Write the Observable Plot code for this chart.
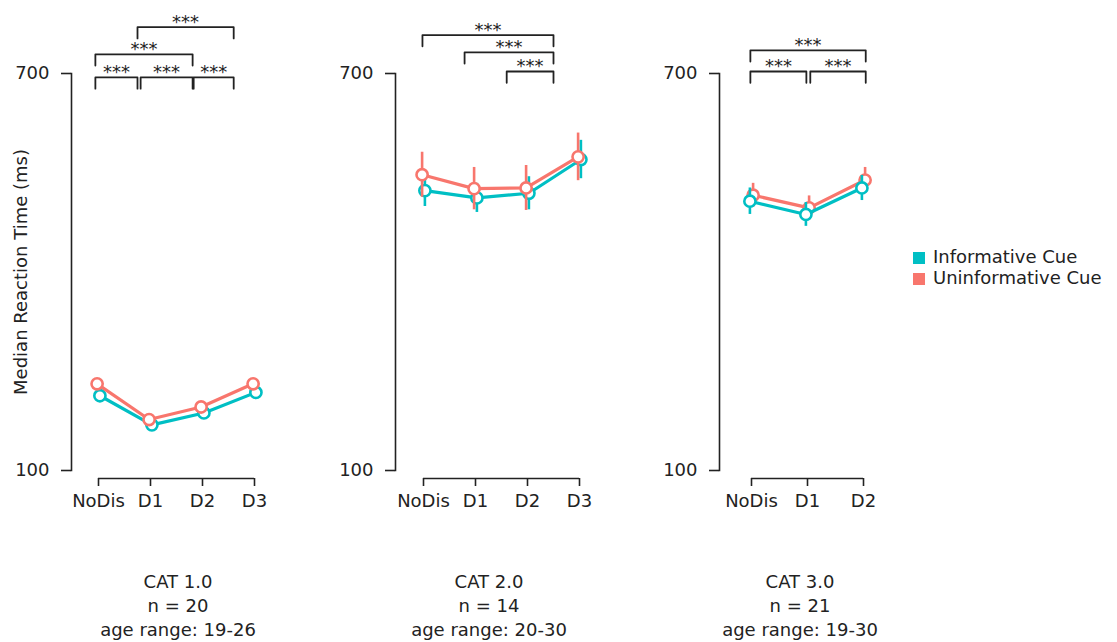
<!DOCTYPE html>
<html><head><meta charset="utf-8">
<script src="https://cdn.jsdelivr.net/npm/d3@7"></script>
<script src="https://cdn.jsdelivr.net/npm/@observablehq/plot@0.6"></script>
<style>
body{margin:0;background:#fff;font-family:"DejaVu Sans",sans-serif;color:#222}
#root{position:relative;width:1117px;height:642px;overflow:hidden;background:#fff}
.panel{position:absolute;top:0}
.cap{position:absolute;top:570px;width:260px;text-align:center;font-size:18px;line-height:24px;white-space:nowrap}
.legend{position:absolute;left:913px;top:246px;font-size:18px;line-height:21px;white-space:nowrap}
.legend .sw{display:inline-block;width:12px;height:12px;margin-right:8px;vertical-align:-1px}
</style></head><body><div id="root"></div>
<script>
// ---- data ----
const conditions = ["Informative Cue", "Uninformative Cue"];
const conditionColors = ["#00BFC4", "#F8766D"];
const yTicks = [100, 700];
const yLabel = "Median Reaction Time (ms)";

// CAT 1.0
const cat1Levels = ["NoDis", "D1", "D2", "D3"];
const cat1Informative = [213, 169, 187, 218];
const cat1InformativeErr = [3, 3, 3, 3];
const cat1Uninformative = [231, 177, 196, 231];
const cat1UninformativeErr = [3, 3, 3, 3];
const cat1BracketFrom = [-0.06, 0.81, 1.83, -0.06, 0.75];
const cat1BracketTo = [0.75, 1.81, 2.6, 1.81, 2.6];
const cat1BracketY = [694, 694, 694, 729, 770];
const cat1Caption = ["CAT 1.0", "n = 20", "age range: 19-26"];

// CAT 2.0
const cat2Levels = ["NoDis", "D1", "D2", "D3"];
const cat2Informative = [523, 512, 519, 570];
const cat2InformativeErr = [24, 22, 25, 29];
const cat2Uninformative = [547, 526, 527, 574];
const cat2UninformativeErr = [34, 32, 34, 36];
const cat2BracketFrom = [1.6, 0.79, -0.02];
const cat2BracketTo = [2.5, 2.5, 2.5];
const cat2BracketY = [703, 732, 758];
const cat2Caption = ["CAT 2.0", "n = 14", "age range: 20-30"];

// CAT 3.0
const cat3Levels = ["NoDis", "D1", "D2"];
const cat3Informative = [507, 487, 527];
const cat3InformativeErr = [20, 18, 19];
const cat3Uninformative = [516, 497, 539];
const cat3UninformativeErr = [18, 18, 19];
const cat3BracketFrom = [-0.02, 1.05, -0.02];
const cat3BracketTo = [0.98, 2.04, 2.04];
const cat3BracketY = [703, 703, 735];
const cat3Caption = ["CAT 3.0", "n = 21", "age range: 19-30"];

const sigLabel = "***";

// ---- drawing ----
const root = document.getElementById("root");
const ink = "#222";
const tip = 17;

function panel(o) {
  const series = [
    {cond: conditions[0], color: conditionColors[0], vals: o.inf, errs: o.infErr, dx: o.dodge},
    {cond: conditions[1], color: conditionColors[1], vals: o.unf, errs: o.unfErr, dx: -o.dodge}
  ];
  if (o.tealOnTop) series.reverse();
  const brackets = o.bFrom.map((f, k) => ({k, f, t: o.bTo[k], y: o.bY[k]}));
  const bracketPath = brackets.flatMap(b => [
    {k: b.k, x: b.f, y: b.y - tip}, {k: b.k, x: b.f, y: b.y},
    {k: b.k, x: b.t, y: b.y}, {k: b.k, x: b.t, y: b.y - tip}
  ]);
  const n = o.levels.length;
  const idx = o.levels.map((_, i) => i);
  const seriesMarks = series.flatMap(s => {
    const rows = s.vals.map((v, i) => ({i, v, e: s.errs[i]}));
    return [
      Plot.line(rows, {x: "i", y: "v", stroke: s.color, strokeWidth: 3.2, dx: s.dx}),
      Plot.ruleX(rows, {x: "i", y1: d => d.v - d.e, y2: d => d.v + d.e, stroke: s.color, strokeWidth: 2.6, dx: s.dx}),
      Plot.dot(rows, {x: "i", y: "v", r: 5.6, fill: "white", stroke: s.color, strokeWidth: 2.6, dx: s.dx})
    ];
  });
  const svg = Plot.plot({
    width: 300, height: 520,
    marginLeft: 71, marginTop: 73, marginBottom: 50, marginRight: 10,
    x: {domain: [0, n - 1], range: o.xRange},
    y: {domain: [100, 700]},
    style: {fontFamily: "DejaVu Sans", fontSize: "18px", color: ink, background: "transparent", overflow: "visible"},
    marks: [
      Plot.frame({anchor: "left", stroke: ink, strokeWidth: 1.6}),
      Plot.axisY({ticks: yTicks, tickSize: 10, tickPadding: 12, strokeWidth: 1.6,
        label: o.showLabel ? yLabel : null, labelAnchor: "center", labelOffset: 57, labelArrow: false}),
      Plot.axisX({ticks: idx, tickFormat: i => o.levels[i], tickSize: 8, tickPadding: 8, dy: 8, strokeWidth: 1.6, label: null}),
      Plot.ruleY([{y: 100, x1: 0, x2: n - 1}], {y: "y", x1: "x1", x2: "x2", dy: 8, stroke: ink, strokeWidth: 1.6}),
      Plot.line(bracketPath, {x: "x", y: "y", z: "k", stroke: ink, strokeWidth: 1.8}),
      Plot.text(brackets, {x: d => (d.f + d.t) / 2, y: "y", text: () => sigLabel, dy: -5, fontSize: 18, fill: ink}),
      ...seriesMarks
    ]
  });
  svg.classList.add("panel");
  svg.style.left = o.left + "px";
  root.appendChild(svg);
  const cap = document.createElement("div");
  cap.className = "cap";
  cap.style.left = (o.capCenter - 130) + "px";
  cap.innerHTML = o.caption.map(s => `<div>${s}</div>`).join("");
  root.appendChild(cap);
}

panel({levels: cat1Levels, inf: cat1Informative, infErr: cat1InformativeErr, unf: cat1Uninformative, unfErr: cat1UninformativeErr,
  bFrom: cat1BracketFrom, bTo: cat1BracketTo, bY: cat1BracketY, caption: cat1Caption,
  left: 0, xRange: [98, 254], dodge: 1.4, showLabel: true, capCenter: 178});
panel({levels: cat2Levels, inf: cat2Informative, infErr: cat2InformativeErr, unf: cat2Uninformative, unfErr: cat2UninformativeErr,
  bFrom: cat2BracketFrom, bTo: cat2BracketTo, bY: cat2BracketY, caption: cat2Caption,
  left: 324, xRange: [99, 255], dodge: 1.4, showLabel: false, capCenter: 489});
panel({levels: cat3Levels, inf: cat3Informative, infErr: cat3InformativeErr, unf: cat3Uninformative, unfErr: cat3UninformativeErr,
  bFrom: cat3BracketFrom, bTo: cat3BracketTo, bY: cat3BracketY, caption: cat3Caption,
  left: 648, xRange: [103, 215], dodge: -1.6, tealOnTop: true, showLabel: false, capCenter: 800});

const legend = document.createElement("div");
legend.className = "legend";
legend.innerHTML = conditions.map((c, i) => `<div><span class="sw" style="background:${conditionColors[i]}"></span>${c}</div>`).join("");
root.appendChild(legend);
</script>
</body></html>
